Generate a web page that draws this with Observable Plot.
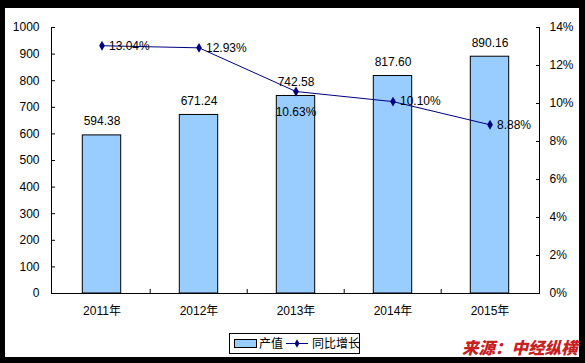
<!DOCTYPE html>
<html>
<head>
<meta charset="utf-8">
<script src="https://cdn.jsdelivr.net/npm/d3@7"></script>
<script src="https://cdn.jsdelivr.net/npm/@observablehq/plot@0.6"></script>
<style>
  body { margin: 0; background: #000; }
  #wrap { position: relative; width: 585px; height: 363px; background: #000; overflow: hidden; }
  #inner { position: absolute; left: 5px; top: 8px; width: 574px; height: 349px; background: #fff; }
  .layer { position: absolute; left: 0; top: 0; }
  .layer svg { background: transparent !important; }
  #legend { position: absolute; left: 229px; top: 333px; }
  #source { position: absolute; left: 462px; top: 339px; font-family: "Noto Sans CJK SC", sans-serif;
            font-weight: 900; font-style: italic; font-size: 16.5px; line-height: 1; color: #c8201f;
            white-space: nowrap; letter-spacing: 0px; }
</style>
</head>
<body>
<div id="wrap">
  <div id="inner"></div>
  <div id="bars" class="layer"></div>
  <div id="line" class="layer"></div>
  <div id="legend"></div>
  <div id="source">来源：中经纵横</div>
</div>
<script>
// ---- data ----
const years = ["2011年", "2012年", "2013年", "2014年", "2015年"];
const output = [594.38, 671.24, 742.58, 817.60, 890.16];      // 产值
const growth = [13.04, 12.93, 10.63, 10.10, 8.88];            // 同比增长 (%)
const leftTicks = [0, 100, 200, 300, 400, 500, 600, 700, 800, 900, 1000];
const rightTicks = [0, 2, 4, 6, 8, 10, 12, 14];
const seriesNames = ["产值", "同比增长"];

const data = years.map((y, i) => ({year: y, value: output[i], growth: growth[i]}));

const W = 585, H = 320, mT = 27, mB = 27, mL = 51, mR = 46;
const bw = (W - mL - mR) / years.length;
const font = "'Liberation Sans', Arial, 'Noto Sans CJK SC', sans-serif";
const navy = "#000080";

const common = {
  width: W, height: H, marginTop: mT, marginBottom: mB, marginLeft: mL, marginRight: mR,
  style: {background: "transparent", fontFamily: font, fontSize: "12px", color: "#000", overflow: "visible"},
  x: {type: "band", domain: years, paddingInner: 0, paddingOuter: 0}
};

const barPlot = Plot.plot({
  ...common,
  y: {domain: [0, 1000]},
  marks: [
    Plot.barY(data, {x: "year", y: "value", fill: "#99ccff", stroke: "#000", strokeWidth: 1,
      insetLeft: 29.3, insetRight: 29.3}),
    Plot.text(data, {x: "year", y: "value", text: d => d.value.toFixed(2), dy: -14, fontSize: 12}),
    Plot.axisY({ticks: leftTicks, tickFormat: d => String(d), tickSize: -4, tickPadding: 16, label: null, fontSize: 12}),
    Plot.axisX({tickSize: 0, tickPadding: 13, label: null, fontSize: 12}),
    Plot.ruleX(years.slice(1), {dx: -bw / 2, y1: 0, y2: 0, insetTop: -4, stroke: "#000"}),
    Plot.ruleY([0], {stroke: "#000"}),
    Plot.frame({anchor: "left", stroke: "#000"})
  ]
});
document.getElementById("bars").appendChild(barPlot);

const lab = data.filter(d => d.year !== "2013年");
const labBelow = data.filter(d => d.year === "2013年");
const linePlot = Plot.plot({
  ...common,
  x: {...common.x, axis: null},
  y: {domain: [0, 14]},
  marks: [
    Plot.line(data, {x: "year", y: "growth", stroke: navy, strokeWidth: 1}),
    Plot.dot(data, {x: "year", y: "growth", symbol: "diamond", r: 3, fill: navy, stroke: "none"}),
    Plot.text(lab, {x: "year", y: "growth", text: d => d.growth.toFixed(2) + "%", dx: 7, textAnchor: "start", fontSize: 12}),
    Plot.text(labBelow, {x: "year", y: "growth", text: d => d.growth.toFixed(2) + "%", dy: 21, fontSize: 12}),
    Plot.axisY({anchor: "right", ticks: rightTicks, tickFormat: d => d + "%", tickSize: -4, tickPadding: 14, label: null, fontSize: 12}),
    Plot.frame({anchor: "right", stroke: "#000"})
  ]
});
document.getElementById("line").appendChild(linePlot);

// ---- legend ----
const lg = d3.select("#legend").append("svg").attr("width", 131).attr("height", 21)
  .style("font-family", "'Noto Sans CJK SC', sans-serif").style("font-size", "12px");
lg.append("rect").attr("x", 0.5).attr("y", 0.5).attr("width", 130).attr("height", 20)
  .attr("fill", "#fff").attr("stroke", "#000");
lg.append("rect").attr("x", 5.5).attr("y", 6.5).attr("width", 22).attr("height", 8)
  .attr("fill", "#99ccff").attr("stroke", "#000");
lg.append("text").attr("x", 30).attr("y", 15).text(seriesNames[0]);
lg.append("line").attr("x1", 57).attr("x2", 79).attr("y1", 10.5).attr("y2", 10.5)
  .attr("stroke", navy).attr("stroke-width", 1);
lg.append("path").attr("d", d3.symbol(d3.symbolDiamond, 20)()).attr("transform", "translate(68,10.5)")
  .attr("fill", navy);
lg.append("text").attr("x", 83).attr("y", 15).text(seriesNames[1]);
</script>
</body>
</html>
